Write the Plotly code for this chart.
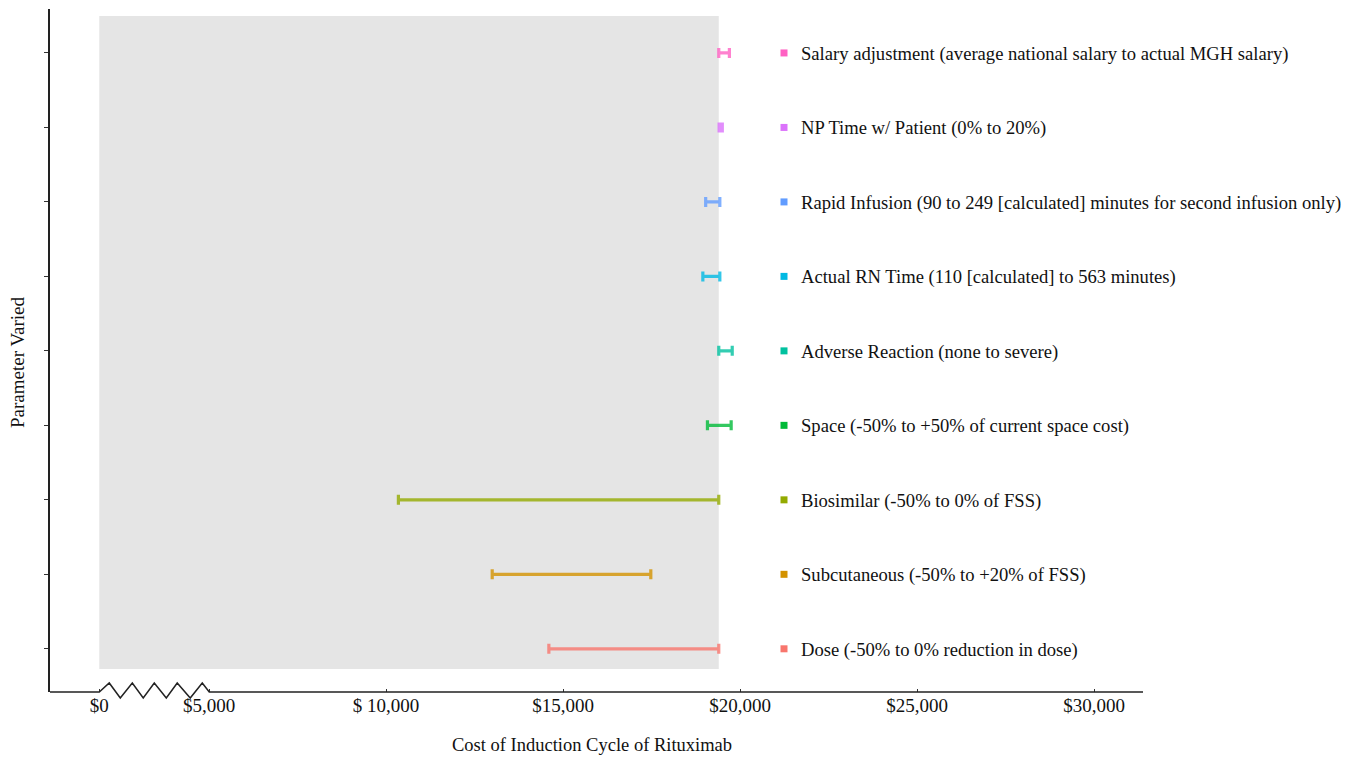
import plotly.graph_objects as go

# ---------------- data ----------------
CATEGORIES = ["Dose", "Subcutaneous", "Biosimilar", "Space", "Adverse Reaction",
              "Actual RN Time", "Rapid Infusion", "NP Time", "Salary adjustment"]
LABELS = [
    "Dose (-50% to 0% reduction in dose)",
    "Subcutaneous (-50% to +20% of FSS)",
    "Biosimilar (-50% to 0% of FSS)",
    "Space (-50% to +50% of current space cost)",
    "Adverse Reaction (none to severe)",
    "Actual RN Time (110 [calculated] to 563 minutes)",
    "Rapid Infusion (90 to 249 [calculated] minutes for second infusion only)",
    "NP Time w/ Patient (0% to 20%)",
    "Salary adjustment (average national salary to actual MGH salary)",
]
LOW_COST = [14600, 13000, 10350, 19080, 19400, 18950, 19030, 19410, 19400]
HIGH_COST = [19400, 17480, 19400, 19750, 19780, 19430, 19430, 19500, 19700]
BASE_COST = 19400          # base-case cost (grey panel ends here)
AXIS_ZERO_POS = 1900       # where "$0" sits on the broken axis
TICK_VALS = [AXIS_ZERO_POS, 5000, 10000, 15000, 20000, 25000, 30000]
TICK_TEXT = ["$0", "$5,000", "$ 10,000", "$15,000", "$20,000", "$25,000", "$30,000"]
COLORS = ["#F8766D", "#D39200", "#93AA00", "#00BA38", "#00C19F",
          "#00B9E3", "#619CFF", "#DB72FB", "#FF61C3"]

# ---------------- layout constants ----------------
OFF = 8                      # page body margin of the html page
W, H = 1358 - OFF, 757 - OFF
ML, MT = 50 - OFF, 9 - OFF
PW, PH = 1093, 683
MR, MB = W - ML - PW, H - MT - PH
XMIN, XMAX = 508, 31384
YMIN, YMAX = 0.42, 9.59
FONT = "Liberation Serif"

def fx(page_px):            # page x pixel -> paper fraction
    return (page_px - OFF - ML) / PW

def fy(page_py):            # page y pixel -> paper fraction
    return (OFF + MT + PH - page_py) / PH

LEGEND_SQ_X = fx(784)
LEGEND_TXT_X = fx(799)

def hex_rgba(h, a):
    h = h.lstrip("#")
    return "rgba(%d,%d,%d,%.2f)" % (int(h[0:2], 16), int(h[2:4], 16), int(h[4:6], 16), a)

ypos = list(range(1, len(CATEGORIES) + 1))

fig = go.Figure()

for i, cat in enumerate(CATEGORIES):
    fig.add_trace(go.Scatter(
        x=[LOW_COST[i]], y=[ypos[i]], mode="markers",
        marker=dict(color="rgba(0,0,0,0)", size=1),
        error_x=dict(type="data", symmetric=False,
                     array=[HIGH_COST[i] - LOW_COST[i]], arrayminus=[0],
                     color=hex_rgba(COLORS[i], 0.8), thickness=3.2, width=5),
        name=cat, showlegend=False, hoverinfo="skip"))

# legend squares on an overlay axis in plot fractions
fig.add_trace(go.Scatter(
    x=[LEGEND_SQ_X] * len(CATEGORIES), y=ypos, xaxis="x2", mode="markers",
    marker=dict(symbol="square", size=7, color=COLORS),
    showlegend=False, hoverinfo="skip", cliponaxis=False))

annotations = []
for i, lab in enumerate(LABELS):
    annotations.append(dict(x=LEGEND_TXT_X, xref="paper", y=ypos[i], yref="y",
                            text=lab, showarrow=False, xanchor="left", yanchor="middle",
                            yshift=-1, font=dict(family=FONT, size=18.6, color="#111")))
annotations.append(dict(x=fx(592), xref="paper", y=fy(745), yref="paper",
                        text="Cost of Induction Cycle of Rituximab", showarrow=False,
                        xanchor="center", yanchor="middle",
                        font=dict(family=FONT, size=18.5, color="#111")))
annotations.append(dict(x=fx(18), xref="paper", y=fy(362), yref="paper",
                        text="Parameter Varied", showarrow=False, textangle=-90,
                        xanchor="center", yanchor="middle",
                        font=dict(family=FONT, size=19, color="#111")))

def px_x(v):
    return (v - XMIN) / (XMAX - XMIN) * PW

# grey base-case panel
shapes = [dict(type="rect", xref="x", yref="paper", x0=AXIS_ZERO_POS, x1=BASE_COST,
               y0=fy(669), y1=fy(16),
               fillcolor="#E5E5E5", line=dict(width=0), layer="below")]

# x axis line with zig-zag break between $0 and $5,000
x0p = px_x(AXIS_ZERO_POS)
zig_dx = [0, 10, 21, 33, 44, 55, 67, 78, 91, 103, 110]
zig_dy = [0, 9, -6, 9, -6, 9, -6, 9, -6, 9, 0]
pts = [(0, 0)] + [(x0p + dx, dy) for dx, dy in zip(zig_dx, zig_dy)] + [(PW, 0)]
path = "M " + " L ".join("%.4f,%.4f" % (px / PW, py / PH) for px, py in pts)
shapes.append(dict(type="path", xref="paper", yref="paper", path=path,
                   line=dict(color="#222", width=1.5), layer="above"))

fig.update_layout(
    width=W, height=H,
    margin=dict(l=ML, r=MR, t=MT, b=MB),
    paper_bgcolor="white", plot_bgcolor="white",
    font=dict(family=FONT, size=19, color="#111"),
    xaxis=dict(range=[XMIN, XMAX], tickvals=TICK_VALS, ticktext=TICK_TEXT,
               showgrid=False, zeroline=False, showline=False,
               ticks="inside", ticklen=3, tickcolor="#333",
               tickfont=dict(family=FONT, size=19, color="#111"),
               ticklabelstandoff=0),
    xaxis2=dict(range=[0, 1], overlaying="x", visible=False, domain=[0, 1]),
    yaxis=dict(range=[YMIN, YMAX], tickvals=ypos, showticklabels=False,
               showgrid=False, zeroline=False, showline=True, linecolor="#222",
               linewidth=1.5, ticks="outside", ticklen=4, tickcolor="#333"),
    shapes=shapes, annotations=annotations, showlegend=False,
)

fig.write_html("out.html")
